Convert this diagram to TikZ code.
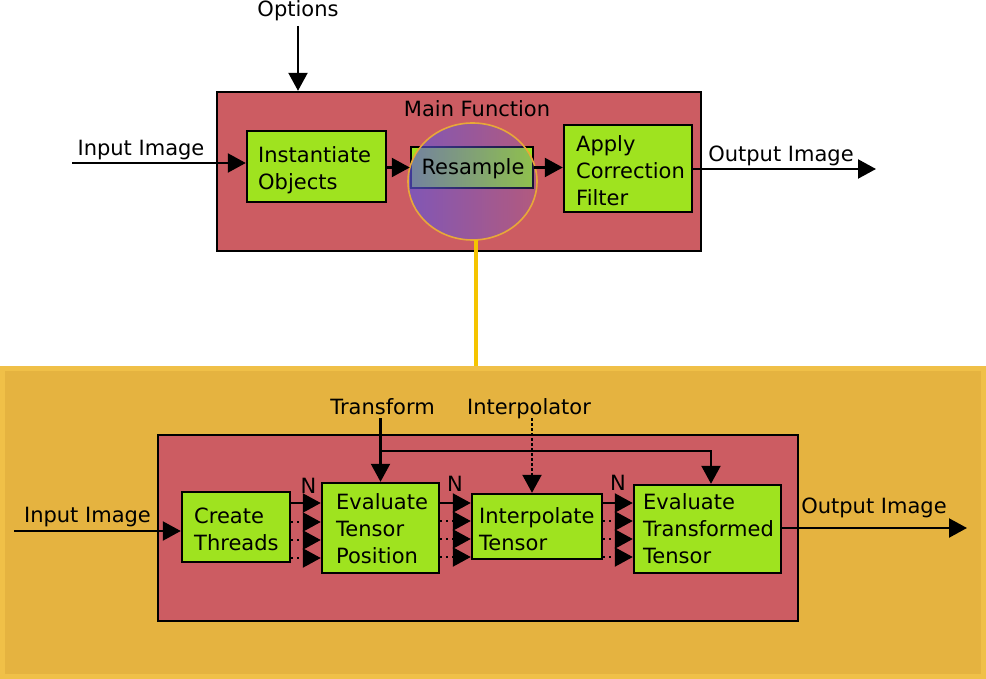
\documentclass[tikz,border=0pt]{standalone}
\usepackage{fontspec}
\setmainfont{DejaVu Sans}
\usetikzlibrary{arrows.meta,shapes.geometric,calc,fadings}
\definecolor{boxred}{RGB}{204,92,98}
\definecolor{boxgreen}{RGB}{159,227,31}
\definecolor{panelfill}{RGB}{229,179,64}
\definecolor{panelrim}{RGB}{240,192,72}
\definecolor{lensrim}{RGB}{232,168,56}
\definecolor{lensblue}{RGB}{95,85,220}
\definecolor{linkyellow}{RGB}{245,196,0}
\pgfdeclarehorizontalshading{lensshade}{100bp}{color(0bp)=(white); color(100bp)=(black)}
\pgfdeclarefading{lensfade}{\pgfuseshading{lensshade}}
\begin{document}
\begin{tikzpicture}[x=1pt,y=-1pt,
  every node/.style={font=\fontsize{21}{27}\selectfont},
  redbox/.style={draw=black, line width=2.4pt, fill=boxred, inner sep=0pt, rectangle},
  greenbox/.style={draw=black, line width=2.4pt, fill=boxgreen, inner sep=0pt, rectangle},
  lbl/.style={inner sep=0pt, anchor=base},
  boxtext/.style={inner sep=0pt, anchor=base west, align=left},
  arr/.style={line width=2.2pt, -{Triangle[length=18pt,width=19pt]}},
  arrdot/.style={arr, dash pattern=on 2.2pt off 3.8pt},
  arrdash/.style={arr, dash pattern=on 3pt off 2pt},
  link/.style={draw=linkyellow, line width=4pt}
]
\useasboundingbox (0,0) rectangle (986,679);

% ---------- top: main function ----------
\node[redbox, minimum width=484pt, minimum height=159pt] (main) at (459,171.5) {};
\node[lbl] (mainlbl) at (477,117) {Main Function};
\node[greenbox, minimum width=139pt, minimum height=71pt] (inst) at (316.5,166.5) {};
\node[boxtext] (insttxt) at (258,190) {Instantiate\\Objects};
\node[greenbox, minimum width=122pt, minimum height=41pt] (res) at (472,167.5) {};
\node[greenbox, minimum width=128pt, minimum height=87pt] (apply) at (628,168.5) {};
\node[boxtext] (applytxt) at (576,206) {Apply\\Correction\\Filter};

\node[ellipse, inner sep=0pt, minimum width=129pt, minimum height=117pt,
      fill=lensblue, fill opacity=0.92, path fading=lensfade] (lens) at (472.5,181.5) {};
\draw[draw=lensrim, line width=1.6pt] (lens.center) ellipse [x radius=64.5, y radius=58.5];
\node[lbl] (restxt) at (473,175) {Resample};

\node[lbl] (opt) at (298,17) {Options};
\coordinate (optstart) at (298,26);
\draw[arr] (optstart) -- (main.north -| optstart);

\node[lbl] (intop) at (141,155.5) {Input Image};
\coordinate (instart) at (72,163);
\draw[arr] (instart) -- (inst.west |- instart);
\draw[arr] (inst.east |- res.west) -- (res.west);
\draw[arr] (res.east) -- (apply.west |- res.east);
\node[lbl] (outtop) at (781,161.5) {Output Image};
\coordinate (outend) at (876,169);
\draw[arr] (apply.east |- outend) -- (outend);

% ---------- link ----------
\node[draw=panelrim, line width=5pt, fill=panelfill, inner sep=0pt,
      minimum width=981pt, minimum height=308pt] (panel) at (493,522.5) {};
\coordinate (lensfoot) at ([xshift=3.5pt]lens.south);
\draw[link] (lensfoot) -- (panel.north -| lensfoot);

% ---------- bottom: resample detail ----------
\node[redbox, minimum width=640pt, minimum height=186pt] (sub) at (478,528) {};
\node[greenbox, minimum width=108pt, minimum height=70pt] (ct) at (236,527) {};
\node[boxtext] (cttxt) at (194,550) {Create\\Threads};
\node[greenbox, minimum width=117pt, minimum height=90pt] (etp) at (380.5,528) {};
\node[boxtext] (etptxt) at (336,563) {Evaluate\\Tensor\\Position};
\node[greenbox, minimum width=130pt, minimum height=65pt] (it) at (537,526.5) {};
\node[boxtext] (ittxt) at (479,550) {Interpolate\\Tensor};
\node[greenbox, minimum width=147pt, minimum height=88pt] (ett) at (707.5,529) {};
\node[boxtext] (etttxt) at (643,563) {Evaluate\\Transformed\\Tensor};

\node[lbl] (inbot) at (87.5,522) {Input Image};
\coordinate (instartb) at (14,531);
\draw[arr] (instartb) -- (ct.west |- instartb);
\node[lbl] (outbot) at (874,513) {Output Image};
\coordinate (outendb) at (967,528);
\draw[arr] (ett.east |- outendb) -- (outendb);

\node[lbl] (trf) at (382.5,414) {Transform};
\coordinate (trfstart) at (380.5,418);
\draw[arr] (trfstart) -- (etp.north);
\coordinate (j1) at (380.5,451);
\coordinate (j2) at (711,451);
\draw[arr] (j1) -- (j2) -- (ett.north -| j2);

\node[lbl] (ipl) at (529,414) {Interpolator};
\coordinate (iplstart) at (532,418);
\draw[arrdash] (iplstart) -- (it.north -| iplstart);

\node[lbl] (n1) at (308.5,493) {N};
\node[lbl] (n2) at (455,491) {N};
\node[lbl] (n3) at (618,490) {N};

\coordinate (ya) at (0,503);
\coordinate (yb) at (0,522);
\coordinate (yc) at (0,540);
\coordinate (yd) at (0,558);
\draw[arr] (ct.east |- ya) -- (etp.west |- ya);
\draw[arrdot] (ct.east |- yb) -- (etp.west |- yb);
\draw[arrdot] (ct.east |- yc) -- (etp.west |- yc);
\draw[arrdot] (ct.east |- yd) -- (etp.west |- yd);

\coordinate (yb2) at (0,521);
\coordinate (yc2) at (0,539);
\coordinate (yd2) at (0,557);
\draw[arr] (etp.east |- ya) -- (it.west |- ya);
\draw[arrdot] (etp.east |- yb2) -- (it.west |- yb2);
\draw[arrdot] (etp.east |- yc2) -- (it.west |- yc2);
\draw[arrdot] (etp.east |- yd2) -- (it.west |- yd2);

\draw[arr] (it.east |- ya) -- (ett.west |- ya);
\draw[arrdot] (it.east |- yb2) -- (ett.west |- yb2);
\draw[arrdot] (it.east |- yc2) -- (ett.west |- yc2);
\draw[arrdot] (it.east |- yd2) -- (ett.west |- yd2);
\end{tikzpicture}
\end{document}
